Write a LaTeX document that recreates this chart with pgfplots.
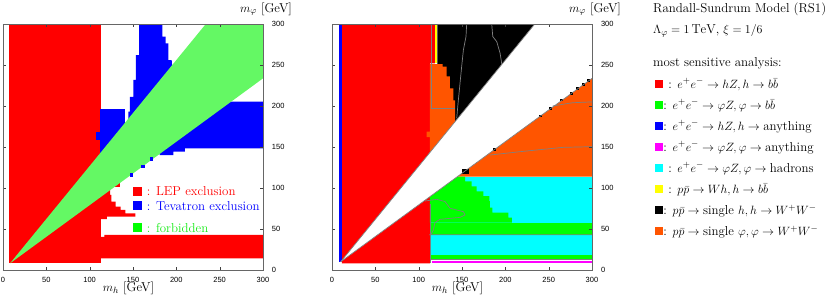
\documentclass[border=0pt]{standalone}
\usepackage{pgfplots}
\pgfplotsset{compat=1.18}
\usepackage{fontspec}
\newfontfamily\tickfont{Liberation Sans}
\definecolor{cRed}{RGB}{255,0,0}
\definecolor{cBlue}{RGB}{0,0,255}
\definecolor{cFgreen}{RGB}{100,248,100}
\definecolor{cGreen}{RGB}{0,255,0}
\definecolor{cGreenT}{RGB}{20,235,20}
\definecolor{cOrange}{RGB}{255,85,0}
\definecolor{cCyan}{RGB}{0,255,255}
\definecolor{cMag}{RGB}{255,0,255}
\definecolor{cYel}{RGB}{255,255,0}
\definecolor{cGray}{RGB}{128,128,128}
\protected\def\lstrut{\rule[-2pt]{0pt}{11pt}}
\protected\def\lstrutB{\rule[-2pt]{0pt}{18.4pt}}
\protected\def\rstrut{\rule[-3.5pt]{0pt}{14.5pt}}
\protected\def\sk{\kern4.8pt\relax}
\protected\def\legA{\lstrut\textcolor{cRed}{: LEP exclusion}}
\protected\def\legB{\lstrut\textcolor{cBlue}{: Tevatron exclusion}}
\protected\def\legC{\lstrutB\textcolor{cGreenT}{: forbidden}}
\protected\def\rlA{\rstrut\sk: $e^+e^-\to hZ, h\to b\bar b$}
\protected\def\rlB{\rstrut: $e^+e^-\to \varphi Z, \varphi\to b\bar b$}
\protected\def\rlC{\rstrut: $e^+e^-\to hZ, h\to{}$anything}
\protected\def\rlD{\rstrut: $e^+e^-\to \varphi Z, \varphi\to{}$anything}
\protected\def\rlE{\rstrut\sk: $e^+e^-\to \varphi Z, \varphi\to{}$hadrons}
\protected\def\rlF{\rstrut\sk: $p\bar p\to Wh, h\to b\bar b$}
\protected\def\rlG{\rstrut: $p\bar p\to{}$single $h, h\to W^+W^-$}
\protected\def\rlH{\rstrut: $p\bar p\to{}$single $\varphi, \varphi\to W^+W^-$}
\pgfplotsset{
  reg/.style={draw=none, forget plot},
  cont/.style={draw=cGray, line width=0.7pt, forget plot},
  rsaxis/.style={
    scale only axis, width=260pt, height=246pt,
    xmin=0, xmax=300, ymin=0, ymax=300,
    xtick={0,50,...,300}, ytick={0,50,...,300},
    axis on top,
    tick align=inside, major tick length=3pt,
    axis line style={black!60},
    tick style={black!75},
    yticklabel pos=right,
    tick label style={font=\tickfont\fontsize{7.5}{8}\selectfont},
    /pgf/number format/assume math mode=true,
    yticklabel style={anchor=west, xshift=4.5pt},
    xticklabel style={yshift=-3pt},
    xlabel={$m_h$ [GeV]}, ylabel={$m_\varphi$ [GeV]},
    every axis x label/.style={at={(rel axis cs:0.5,0)}, anchor=base, yshift=-21pt, xshift=-4.5pt},
    every axis y label/.style={at={(rel axis cs:1,1)}, anchor=base, yshift=12pt, xshift=3pt},
  }
}
\begin{document}
\fontsize{12.9}{15}\selectfont
\begin{tikzpicture}
\useasboundingbox (0pt,0pt) rectangle (830pt,301pt);
% ---------------- left panel ----------------
\begin{axis}[rsaxis, at={(3pt,31pt)}, anchor=south west,
  legend image code/.code={\path[#1, draw=none] (0pt,0pt) rectangle (9pt,9pt);},
  legend style={draw=none, fill=none, at={(rel axis cs:0.5,0.3394)}, anchor=north west,
    inner sep=0pt, row sep=3.7pt, column sep=4.7pt, nodes={inner sep=0pt, anchor=base west}},
]
\addplot[reg, fill=cRed] coordinates {(7.3,8) (112.7,8) (112.7,300) (7.3,300)} -- cycle;
\addplot[reg, fill=cRed] coordinates {(112,14.2) (300,14.2) (300,42.7) (117,42.7) (117,40.3) (112,40.3)} -- cycle;
\addplot[reg, fill=cRed] coordinates {(112,62) (112,99.6) (123.5,99.6) (123.5,91.5) (125,91.5) (125,83.3) (130,83.3) (130,77.2) (135.6,77.2) (135.6,73.2) (141.3,73.2) (141.3,69.1) (152.8,69.1) (152.8,65) (120,65) (120,62)} -- cycle;
\addplot[reg, fill=cRed] coordinates {(129.5,101) (135,101) (135,105.7) (129.5,105.7)} -- cycle;
\addplot[reg, fill=cBlue] coordinates {(157.2,300) (184,300) (184,284.5) (187.6,284.5) (187.6,276.4) (190.7,276.4) (190.7,256) (194.6,256) (196,240) (143,175) (144.6,183) (144.6,193) (146.5,193) (146.5,211) (150.3,211) (150.3,232) (153.4,232) (153.4,262) (157.2,262)} -- cycle;
\addplot[reg, fill=cBlue] coordinates {(112,196.3) (140.7,196.3) (140.7,178) (112,140)} -- cycle;
\addplot[reg, fill=cBlue] coordinates {(107.3,158.5) (112.7,158.5) (112.7,168.7) (107.3,168.7)} -- cycle;
\addplot[reg, fill=cBlue] coordinates {(300,205.3) (262,205.3) (180,143) (181,140.2) (196.5,140.2) (196.5,144.3) (210,144.3) (210,148.4) (300,148.4)} -- cycle;
\addplot[reg, fill=cFgreen] coordinates {(8,8) (234,300) (300,300) (300,233.7)} -- cycle;
\addplot[reg, fill=cBlue] coordinates {(146.5,113.8) (150,113.8) (150,117.8) (146.5,117.8)} -- cycle;
\addplot[reg, fill=cBlue] coordinates {(159.8,124) (163.8,124) (163.8,128) (159.8,128)} -- cycle;
\addplot[reg, fill=cBlue] coordinates {(169.8,133.5) (173.5,133.5) (173.5,137.3) (169.8,137.3)} -- cycle;
\addlegendimage{fill=cRed}
\addlegendentry{\legA}
\addlegendimage{fill=cBlue}
\addlegendentry{\legB}
\addlegendimage{fill=cGreen}
\addlegendentry{\legC}
\end{axis}
% ---------------- right panel ----------------
\begin{axis}[rsaxis, at={(332pt,31pt)}, anchor=south west,
  legend image code/.code={\path[#1, draw=none] (0pt,0pt) rectangle (7.8pt,8.6pt);},
  legend style={draw=none, fill=none, at={(rel axis cs:1.2423,0.7846)}, anchor=north west,
    inner sep=0pt, row sep=8.1pt, column sep=0.5pt, nodes={inner sep=0pt, anchor=base west}},
]
\addplot[reg, fill=cRed] coordinates {(11.5,8) (113,8) (113,252) (118.8,252) (118.8,300) (11.5,300)} -- cycle;
\addplot[reg, fill=cBlue] coordinates {(8.4,10) (11.5,10) (11.5,300) (8.4,300)} -- cycle;
\addplot[reg, fill=cYel] coordinates {(118.8,252) (121.5,252) (121.5,300) (118.8,300)} -- cycle;
\addplot[reg, fill=black] coordinates {(121.5,300) (240,300) (140,170) (121.5,170)} -- cycle;
\addplot[reg, fill=cOrange] coordinates {(113,251) (127.5,251) (127.5,248) (132.3,248) (132.3,236) (136,236) (136,221.5) (140,221.5) (140,207) (142,207) (142,175) (113,140) (113,162) (109.2,162) (109.2,168.7) (113,168.7)} -- cycle;
\addplot[reg, fill=cOrange] coordinates {(130,113.8) (300,113.8) (300,240) (280,240)} -- cycle;
\addplot[reg, fill=cCyan] coordinates {(113,12.8) (300,12.8) (300,113.8) (113,113.8)} -- cycle;
\addplot[reg, fill=cGreen] coordinates {(113,12.8) (300,12.8) (300,17.9) (113,17.9)} -- cycle;
\addplot[reg, fill=cGreen] coordinates {(113,43) (300,43) (300,57.7) (113,57.7)} -- cycle;
\addplot[reg, fill=cGreen] coordinates {(113,57.7) (207.5,57.7) (207.5,64) (203.5,64) (203.5,70) (185,70) (185,76) (182.3,76) (182.3,84) (181.6,84) (181.6,90) (174.6,90) (174.6,96) (167,96) (167,102) (161,102) (161,108) (153.5,108) (153.5,113.8) (135,113.8) (113,95)} -- cycle;
\addplot[reg, fill=cMag] coordinates {(115,8) (300,8) (300,11.5) (115,11.5)} -- cycle;
\addplot[reg, fill=white] coordinates {(10,10) (234,300) (300,300) (300,233.7)} -- cycle;
% black dots along the lower edge
\addplot[reg, fill=black] coordinates {(150,117) (157.5,117) (157.5,123.5) (150,123.5)} -- cycle;
\addplot[reg, fill=black] coordinates {(185.5,145) (189,145) (189,148.5) (185.5,148.5)} -- cycle;
\addplot[reg, fill=black] coordinates {(238.5,186) (242,186) (242,189.5) (238.5,189.5)} -- cycle;
\addplot[reg, fill=black] coordinates {(250.5,195.5) (254,195.5) (254,199) (250.5,199)} -- cycle;
\addplot[reg, fill=black] coordinates {(263.5,205.5) (267,205.5) (267,209) (263.5,209)} -- cycle;
\addplot[reg, fill=black] coordinates {(274.5,214) (278,214) (278,217.5) (274.5,217.5)} -- cycle;
\addplot[reg, fill=black] coordinates {(281.5,219.5) (285,219.5) (285,223) (281.5,223)} -- cycle;
\addplot[reg, fill=black] coordinates {(288.5,225) (292,225) (292,228.5) (288.5,228.5)} -- cycle;
\addplot[reg, fill=black] coordinates {(294.5,229.5) (298,229.5) (298,233) (294.5,233)} -- cycle;
% contour lines
\addplot[cont] coordinates {(10,10) (234,300)};
\addplot[cont] coordinates {(10,10) (300,233.7)};
\addplot[cont] coordinates {(155.4,300) (154.6,284.6) (151.6,268.3) (149.6,248) (147.7,227.6) (145.8,207.3) (143.9,185)};
\addplot[cont] coordinates {(184.3,300) (185.5,284.6) (190.1,278.5) (194,264.2) (195.9,251)};
\addplot[cont] coordinates {(114.8,300) (114.8,197) (142,197)};
\addplot[cont] coordinates {(113,8) (113,80)};
\addplot[cont] coordinates {(107.3,84.1) (120.8,86.2) (130.4,83.5) (136.2,75.3) (143.9,73.2) (151.6,71.1) (153.5,67.1) (147.7,64.2) (136.2,63) (124.6,61.8) (118.8,57.7) (116.9,48.8) (115,44.7) (113,43) (300,43)};
\addplot[cont] coordinates {(113,13) (300,13)};
\addplot[cont] coordinates {(182.3,140.2) (216.9,144.3) (266.9,149.6) (300,150.4)};
\addplot[cont] coordinates {(254.5,200) (277.6,204) (300,205)};
% legend
\addlegendimage{fill=cRed}
\addlegendentry{\rlA}
\addlegendimage{fill=cGreen}
\addlegendentry{\rlB}
\addlegendimage{fill=cBlue}
\addlegendentry{\rlC}
\addlegendimage{fill=cMag}
\addlegendentry{\rlD}
\addlegendimage{fill=cCyan}
\addlegendentry{\rlE}
\addlegendimage{fill=cYel}
\addlegendentry{\rlF}
\addlegendimage{fill=black}
\addlegendentry{\rlG}
\addlegendimage{fill=cOrange}
\addlegendentry{\rlH}
\end{axis}
\node[anchor=base west, inner sep=0pt] at (653pt,289pt) {Randall-Sundrum Model (RS1)};
\node[anchor=base west, inner sep=0pt] at (653pt,267.7pt) {$\Lambda_\varphi = 1\,\mathrm{TeV}$, $\xi = 1/6$};
\node[anchor=base west, inner sep=0pt] at (653pt,234.3pt) {most sensitive analysis:};
\end{tikzpicture}
\end{document}
